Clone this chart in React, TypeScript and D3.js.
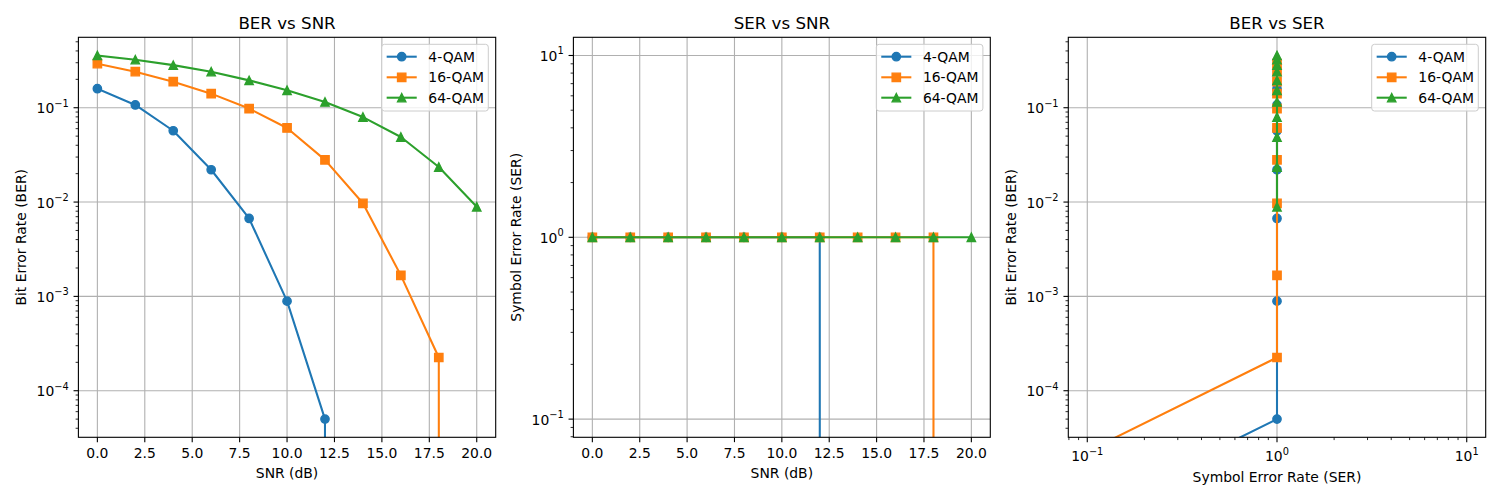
import React from "react";
import * as d3 from "d3";

// ---- data ----
const SNR_DB = [0, 2, 4, 6, 8, 10, 12, 14, 16, 18, 20];

const BER_4QAM = [0.159, 0.107, 0.057, 0.022, 0.0067, 0.00089, 0.00005, 0, 0, 0, 0];
const BER_16QAM = [0.293, 0.241, 0.189, 0.141, 0.098, 0.061, 0.028, 0.0097, 0.00167, 0.000225, 0];
const BER_64QAM = [0.358, 0.323, 0.283, 0.241, 0.195, 0.153, 0.115, 0.0796, 0.0489, 0.0235, 0.0089];

const SER_4QAM = [1, 1, 1, 1, 1, 1, 1, 0, 0, 0, 0];
const SER_16QAM = [1, 1, 1, 1, 1, 1, 1, 1, 1, 1, 0];
const SER_64QAM = [1, 1, 1, 1, 1, 1, 1, 1, 1, 1, 1];

const SERIES_NAMES = ["4-QAM", "16-QAM", "64-QAM"];
const SNR_TICKS = [0, 2.5, 5, 7.5, 10, 12.5, 15, 17.5, 20];

const PANEL_TITLES = ["BER vs SNR", "SER vs SNR", "BER vs SER"];

// ---- styling ----
const FONT = "DejaVu Sans";
const COLORS = ["#1f77b4", "#ff7f0e", "#2ca02c"];
const MARKERS = ["circle", "square", "triangle"];
const TOP = 37.3;
const BOTTOM = 437.3;
const PANEL_X: [number, number][] = [
  [78.4, 495.7],
  [573.4, 990.3],
  [1068.3, 1485.7],
];
const YLABEL_X = [26, 521, 1016];
const LINE_W = 2.08;
const MS = 8.33;

const series = SERIES_NAMES.map((name, i) => ({
  name,
  color: COLORS[i],
  marker: MARKERS[i],
  ber: [BER_4QAM, BER_16QAM, BER_64QAM][i],
  ser: [SER_4QAM, SER_16QAM, SER_64QAM][i],
}));

// log10 of a value, non-positive values clipped far below the axis
const lg = (v: number) => (v > 0 ? Math.log10(v) : -1000);

function logDomain(values: number[]): [number, number] {
  const pos = values.filter((v) => v > 0);
  let lo = Math.log10(d3.min(pos)!);
  let hi = Math.log10(d3.max(pos)!);
  if (hi - lo < 1e-9) {
    lo -= 1;
    hi += 1;
  }
  const pad = 0.05 * (hi - lo);
  return [lo - pad, hi + pad];
}

function linDomain(values: number[]): [number, number] {
  const lo = d3.min(values)!;
  const hi = d3.max(values)!;
  const pad = 0.05 * (hi - lo);
  return [lo - pad, hi + pad];
}

type Axis = {
  map: (v: number) => number;
  majors: { v: number; label: React.ReactNode; exp?: number }[];
  minors: number[];
  log: boolean;
};

function makeLogAxis(values: number[], range: [number, number]): Axis {
  const dom = logDomain(values);
  const s = d3.scaleLinear().domain(dom).range(range);
  const majors = d3.range(Math.ceil(dom[0]), Math.floor(dom[1]) + 1).map((e) => ({
    v: Math.pow(10, e),
    label: null,
    exp: e,
  }));
  const minors: number[] = [];
  for (let e = Math.floor(dom[0]); e <= Math.ceil(dom[1]); e++) {
    for (let k = 2; k <= 9; k++) {
      const l = Math.log10(k) + e;
      if (l >= dom[0] && l <= dom[1]) minors.push(k * Math.pow(10, e));
    }
  }
  return { map: (v) => s(lg(v)), majors, minors, log: true };
}

function makeLinAxis(values: number[], ticks: number[], range: [number, number]): Axis {
  const s = d3.scaleLinear().domain(linDomain(values)).range(range);
  const fmt = d3.format(".1f");
  return {
    map: (v) => s(v),
    majors: ticks.map((t) => ({ v: t, label: fmt(t) })),
    minors: [],
    log: false,
  };
}

function expText(e: number) {
  return e < 0 ? "\u2212" + -e : String(e);
}

function Marker({ kind, x, y, color }: { kind: string; x: number; y: number; color: string }) {
  const h = MS / 2;
  let d = "";
  if (kind === "circle") {
    d = `M${x + h},${y}A${h},${h} 0 1,1 ${x - h},${y}A${h},${h} 0 1,1 ${x + h},${y}Z`;
  } else if (kind === "square") {
    d = `M${x - h},${y - h}H${x + h}V${y + h}H${x - h}Z`;
  } else {
    d = `M${x},${y - h}L${x - h},${y + h}L${x + h},${y + h}Z`;
  }
  return <path d={d} fill={color} stroke={color} strokeWidth={1.39} strokeLinejoin="miter" />;
}

function Legend({ right }: { right: number }) {
  const boxR = right - 7.4;
  const boxL = boxR - 106.6;
  const boxT = TOP + 7;
  const rows = [12.4, 33, 53.4];
  return (
    <g>
      <rect
        x={boxL}
        y={boxT}
        width={106.6}
        height={66.7}
        rx={2.8}
        fill="white"
        fillOpacity={0.8}
        stroke="#cccccc"
        strokeWidth={1}
      />
      {series.map((s, i) => {
        const cy = boxT + rows[i];
        return (
          <g key={s.name}>
            <line
              x1={boxL + 6}
              x2={boxL + 34}
              y1={cy}
              y2={cy}
              stroke={s.color}
              strokeWidth={LINE_W}
              strokeLinecap="square"
            />
            <Marker kind={s.marker} x={boxL + 20} y={cy} color={s.color} />
            <text x={boxL + 46.6} y={cy + 5} fontSize={13.9} fontFamily={FONT} fill="#000">
              {s.name}
            </text>
          </g>
        );
      })}
    </g>
  );
}

function Panel({
  idx,
  xAxis,
  yAxis,
  xs,
  ys,
  xlabel,
  ylabel,
}: {
  idx: number;
  xAxis: Axis;
  yAxis: Axis;
  xs: number[][];
  ys: number[][];
  xlabel: string;
  ylabel: string;
}) {
  const [L, R] = PANEL_X[idx];
  const clipId = `clip-${idx}`;
  const line = d3
    .line<[number, number]>()
    .x((d) => d[0])
    .y((d) => d[1]);
  const xTickBase = xAxis.log ? 461 : 458.3;
  const xLabelBase = xAxis.log ? 482 : 478.3;
  return (
    <g>
      <defs>
        <clipPath id={clipId}>
          <rect x={L} y={TOP} width={R - L} height={BOTTOM - TOP} />
        </clipPath>
      </defs>
      <rect x={L} y={TOP} width={R - L} height={BOTTOM - TOP} fill="white" />
      {/* grid */}
      <g stroke="#b0b0b0" strokeWidth={1.1}>
        {xAxis.majors.map((t, i) => {
          const x = xAxis.map(t.v);
          return <line key={"gx" + i} x1={x} x2={x} y1={TOP} y2={BOTTOM} />;
        })}
        {yAxis.majors.map((t, i) => {
          const y = yAxis.map(t.v);
          return <line key={"gy" + i} x1={L} x2={R} y1={y} y2={y} />;
        })}
      </g>
      {/* series */}
      <g clipPath={`url(#${clipId})`}>
        {series.map((s, si) => {
          const pts: [number, number][] = xs[si].map((xv, k) => [xAxis.map(xv), yAxis.map(ys[si][k])]);
          return (
            <g key={s.name}>
              <path
                d={line(pts) || ""}
                fill="none"
                stroke={s.color}
                strokeWidth={LINE_W}
                strokeLinecap="square"
                strokeLinejoin="round"
              />
              {pts
                .filter((p) => p[1] > -1e4 && p[1] < 1e4 && p[0] > -1e4 && p[0] < 1e4)
                .map((p, k) => (
                  <Marker key={k} kind={s.marker} x={p[0]} y={p[1]} color={s.color} />
                ))}
            </g>
          );
        })}
      </g>
      {/* spines */}
      <rect x={L} y={TOP} width={R - L} height={BOTTOM - TOP} fill="none" stroke="#000" strokeWidth={1.1} />
      {/* x ticks */}
      <g stroke="#000">
        {xAxis.majors.map((t, i) => {
          const x = xAxis.map(t.v);
          return <line key={"tx" + i} x1={x} x2={x} y1={BOTTOM} y2={BOTTOM + 4.86} strokeWidth={1.1} />;
        })}
        {xAxis.minors.map((v, i) => {
          const x = xAxis.map(v);
          return <line key={"mx" + i} x1={x} x2={x} y1={BOTTOM} y2={BOTTOM + 2.78} strokeWidth={0.83} />;
        })}
        {yAxis.majors.map((t, i) => {
          const y = yAxis.map(t.v);
          return <line key={"ty" + i} x1={L} x2={L - 4.86} y1={y} y2={y} strokeWidth={1.1} />;
        })}
        {yAxis.minors.map((v, i) => {
          const y = yAxis.map(v);
          return <line key={"my" + i} x1={L} x2={L - 2.78} y1={y} y2={y} strokeWidth={0.83} />;
        })}
      </g>
      {/* tick labels */}
      <g fontFamily={FONT} fontSize={13.9} fill="#000">
        {xAxis.majors.map((t, i) => (
          <text key={"lx" + i} x={xAxis.map(t.v)} y={xTickBase} textAnchor="middle">
            {xAxis.log ? (
              <>
                <tspan>10</tspan>
                <tspan dy={-6.5} fontSize={9.8}>
                  {expText(t.exp!)}
                </tspan>
              </>
            ) : (
              t.label
            )}
          </text>
        ))}
        {yAxis.majors.map((t, i) => (
          <text key={"ly" + i} x={L - 9.7} y={yAxis.map(t.v) + 5.5} textAnchor="end">
            {yAxis.log ? (
              <>
                <tspan>10</tspan>
                <tspan dy={-6.5} fontSize={9.8}>
                  {expText(t.exp!)}
                </tspan>
              </>
            ) : (
              t.label
            )}
          </text>
        ))}
      </g>
      {/* labels */}
      <text
        x={(L + R) / 2}
        y={29.3}
        textAnchor="middle"
        fontFamily={FONT}
        fontSize={16.67}
        fill="#000"
      >
        {PANEL_TITLES[idx]}
      </text>
      <text x={(L + R) / 2} y={xLabelBase} textAnchor="middle" fontFamily={FONT} fontSize={13.9} fill="#000">
        {xlabel}
      </text>
      <text
        transform={`translate(${YLABEL_X[idx]},${(TOP + BOTTOM) / 2}) rotate(-90)`}
        textAnchor="middle"
        fontFamily={FONT}
        fontSize={13.9}
        fill="#000"
      >
        {ylabel}
      </text>
      <Legend right={R} />
    </g>
  );
}

export default function App() {
  const allBer = series.flatMap((s) => s.ber);
  const allSer = series.flatMap((s) => s.ser);
  const snrXs = series.map(() => SNR_DB);

  const p1x = makeLinAxis(SNR_DB, SNR_TICKS, PANEL_X[0]);
  const p1y = makeLogAxis(allBer, [BOTTOM, TOP]);
  const p2x = makeLinAxis(SNR_DB, SNR_TICKS, PANEL_X[1]);
  const p2y = makeLogAxis(allSer, [BOTTOM, TOP]);
  const p3x = makeLogAxis(allSer, PANEL_X[2]);
  const p3y = makeLogAxis(allBer, [BOTTOM, TOP]);

  return (
    <svg
      width={1500}
      height={500}
      viewBox="0 0 1500 500"
      style={{ position: "absolute", left: 0, top: 0, background: "white" }}
    >
      <rect width={1500} height={500} fill="white" />
      <Panel
        idx={0}
        xAxis={p1x}
        yAxis={p1y}
        xs={snrXs}
        ys={series.map((s) => s.ber)}
        xlabel="SNR (dB)"
        ylabel="Bit Error Rate (BER)"
      />
      <Panel
        idx={1}
        xAxis={p2x}
        yAxis={p2y}
        xs={snrXs}
        ys={series.map((s) => s.ser)}
        xlabel="SNR (dB)"
        ylabel="Symbol Error Rate (SER)"
      />
      <Panel
        idx={2}
        xAxis={p3x}
        yAxis={p3y}
        xs={series.map((s) => s.ser)}
        ys={series.map((s) => s.ber)}
        xlabel="Symbol Error Rate (SER)"
        ylabel="Bit Error Rate (BER)"
      />
    </svg>
  );
}
